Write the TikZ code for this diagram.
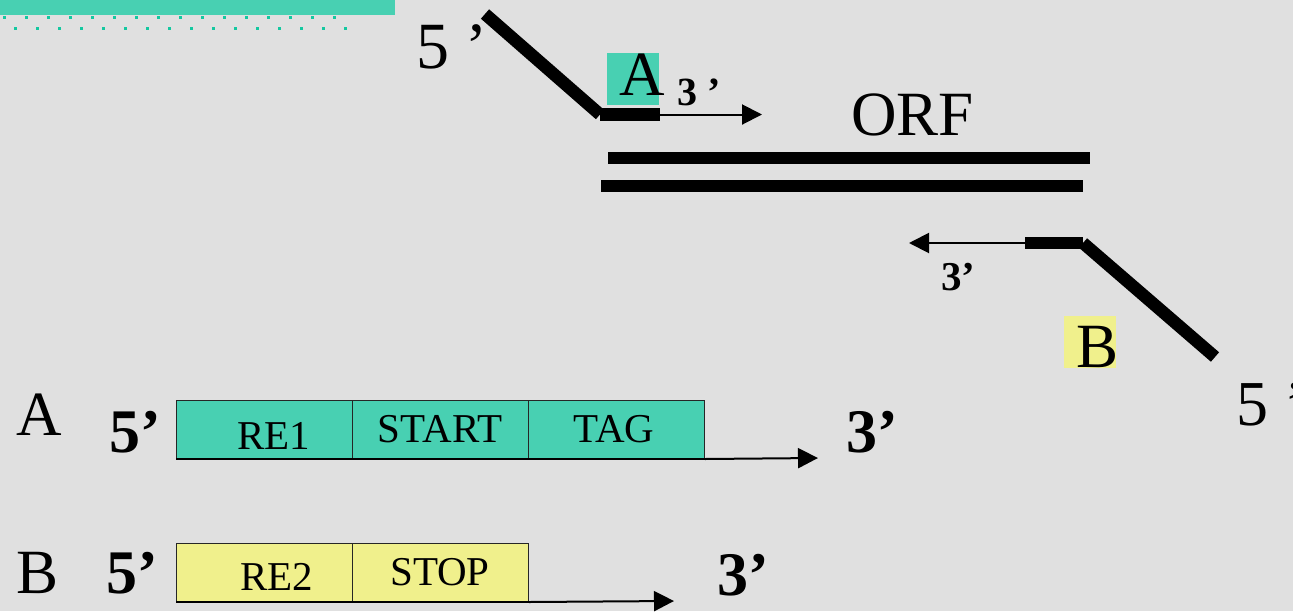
\documentclass[tikz,border=0pt]{standalone}
\usepackage{fontspec}
\setmainfont{Liberation Serif}
\usetikzlibrary{arrows.meta}
\definecolor{bgcol}{RGB}{224,224,224}
\definecolor{tealfill}{RGB}{72,208,178}
\definecolor{yelfill}{RGB}{240,240,140}
\definecolor{tealdot}{RGB}{20,200,160}
\newcommand{\fs}[1]{\fontsize{#1}{#1}\selectfont}
\tikzset{
  x=1pt, y=-1pt,
  strand/.style={line width=12.5pt, line cap=butt},
  primer/.style={line width=2pt, -{Triangle[length=20pt,width=20pt]}},
  txt/.style={inner sep=0pt, anchor=base west},
  ctxt/.style={inner sep=0pt, anchor=base},
  cellA/.style={draw=black!85, line width=1pt, fill=tealfill, inner sep=0pt,
    minimum height=58pt, minimum width=176pt, anchor=north west},
  cellB/.style={cellA, fill=yelfill},
  tagbox/.style={inner sep=0pt, minimum width=52pt, minimum height=52pt, anchor=north west}
}
\begin{document}
\begin{tikzpicture}
\fill[bgcol] (0,0) rectangle (1293,611);
\useasboundingbox (0,0) rectangle (1293,611);

% header strip with its dotted rule
\fill[tealfill] (0,0) rectangle (395,14.5);
\foreach \i in {0,...,15} {
  \fill[tealdot] (3+22*\i,16) rectangle ++(3,3);
  \fill[tealdot] (14+22*\i,27) rectangle ++(3,3);
}

% ORF duplex
\coordinate (t1) at (608,158);  \coordinate (t2) at (1090,158);
\coordinate (b1) at (601,186);  \coordinate (b2) at (1083,186);
\draw[strand] (t1) -- (t2);
\draw[strand] (b1) -- (b2);
\node[txt] (orf) at (851,135) {\fs{63}ORF};

% forward primer A
\coordinate (a5) at (485,14);
\coordinate (ak) at (600,114.5);
\coordinate (a3) at (660,114.5);
\coordinate (atip) at (762,114.5);
\draw[strand] (a5) -- (ak);
\draw[strand] (ak) -- (a3);
\draw[primer] (a3) -- (atip);
\node[txt] (a5lab) at (416,68) {\fs{66}5 ’};
\node[tagbox, fill=tealfill] (aboxtop) at (607,53) {};
\node[txt] (alabtop) at (619,95) {\fs{63}A};
\node[txt] (a3lab) at (677,105) {\fs{40}\bfseries 3 ’};

% reverse primer B
\coordinate (b5) at (1215,357);
\coordinate (bk) at (1083,243);
\coordinate (b3) at (1025,243);
\coordinate (btip) at (909,243);
\draw[strand] (b5) -- (bk);
\draw[strand] (bk) -- (b3);
\draw[primer] (b3) -- (btip);
\node[txt] (b3lab) at (941,290) {\fs{41}\bfseries 3’};
\node[tagbox, fill=yelfill] (bboxtop) at (1064,316) {};
\node[txt] (blabtop) at (1076,367) {\fs{63}B};
\node[txt] (b5lab) at (1236,425) {\fs{64}5 ’};

% primer A design
\node[txt] (rowa) at (16,435) {\fs{63}A};
\node[txt] (rowa5) at (109,452) {\fs{62}\bfseries 5’};
\node[cellA] (re1) at (176,400) {};
\node[cellA] (start) at (352,400) {};
\node[cellA] (tag) at (528,400) {};
\node[ctxt] at (274,449) {\fs{41}RE1};
\node[ctxt] at (440,442) {\fs{41}START};
\node[ctxt] at (614,442) {\fs{41}TAG};
\coordinate (atail) at (818,458);
\draw[black, line width=2pt] (re1.south west) -- (tag.south east);
\draw[primer] (tag.south east) -- (atail);
\node[txt] (rowa3) at (846,452) {\fs{62}\bfseries 3’};

% primer B design
\node[txt] (rowb) at (16,593) {\fs{63}B};
\node[txt] (rowb5) at (106,593) {\fs{62}\bfseries 5’};
\node[cellB] (re2) at (176,543) {};
\node[cellB] (stop) at (352,543) {};
\node[ctxt] at (277,590) {\fs{41}RE2};
\node[ctxt] at (440,585) {\fs{41}STOP};
\coordinate (btail) at (674,601);
\draw[black, line width=2pt] (re2.south west) -- (stop.south east);
\draw[primer] (stop.south east) -- (btail);
\node[txt] (rowb3) at (717,595) {\fs{62}\bfseries 3’};
\end{tikzpicture}
\end{document}
